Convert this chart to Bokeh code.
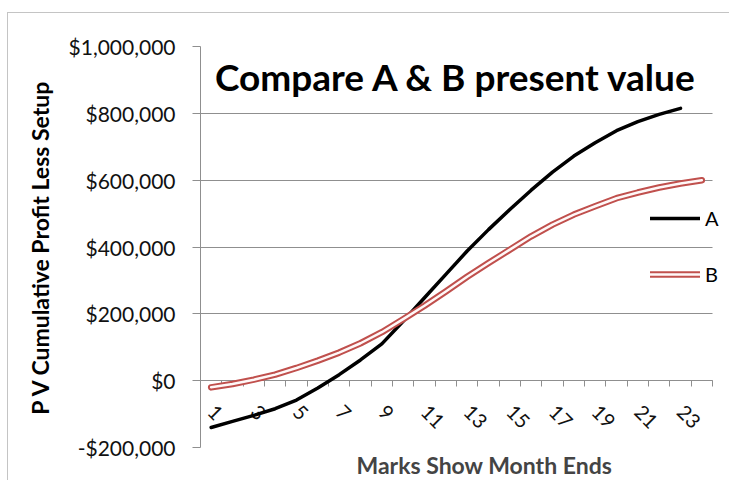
import math
from bokeh.plotting import figure
from bokeh.models import (ColumnDataSource, FixedTicker, LinearAxis, Range1d,
                          Legend, LegendItem, Label, Title, Grid)
from bokeh.embed import file_html
from bokeh.resources import INLINE

# ---- data ----
months_a = [1, 2, 3, 4, 5, 6, 7, 8, 9, 10, 11, 12, 13, 14, 15, 16, 17, 18, 19, 20, 21, 22, 23]
pv_a = [-140000, -122000, -104000, -84000, -58000, -22000, 18000, 62000, 110000,
        178000, 248000, 318000, 388000, 452000, 512000, 570000, 624000, 672000,
        712000, 748000, 775000, 797000, 815000]
months_b = [1, 2, 3, 4, 5, 6, 7, 8, 9, 10, 11, 12, 13, 14, 15, 16, 17, 18, 19, 20, 21, 22, 23, 24]
pv_b = [-20000, -10000, 3000, 18000, 38000, 60000, 84000, 112000, 145000, 184000,
        224000, 267000, 311000, 352000, 392000, 432000, 467000, 497000, 522000,
        546000, 563000, 578000, 590000, 600000]
month_ticks = [1, 3, 5, 7, 9, 11, 13, 15, 17, 19, 21, 23]
month_bounds = [0.5 + i for i in range(25)]
y_ticks = [-200000, 0, 200000, 400000, 600000, 800000, 1000000]
y_labels = ["-$200,000", "$0", "$200,000", "$400,000", "$600,000", "$800,000", "$1,000,000"]

FONT = "Lato"
GRAY = "#8f8f8f"
RED = "#c0504d"

AXIS_PX = 512          # pixel width of the 24 month slots
EXTRA_PX = 18          # room right of the axis for the legend text
x_start, x_end = 0.5, 24.5

p = figure(width=722, height=468,
           x_range=Range1d(x_start, x_end + (x_end - x_start) * EXTRA_PX / AXIS_PX),
           y_range=Range1d(-200000, 1000000), output_backend="svg",
           toolbar_location=None, x_axis_type=None, y_axis_type=None,
           min_border_left=192, min_border_right=0, min_border_top=33,
           min_border_bottom=34)
p.margin = (12, 0, 0, 7)
p.styles = {"border-top": "1px solid #c4c4c4", "border-left": "1px solid #c4c4c4"}
p.outline_line_color = None
p.background_fill_color = "white"
p.border_fill_color = "white"

# horizontal gridlines, limited to the month slots
if "cross_bounds" in Grid.properties():
    p.add_layout(Grid(dimension=1, ticker=FixedTicker(ticks=y_ticks),
                      cross_bounds=(x_start, x_end),
                      grid_line_color=GRAY, grid_line_width=1))
else:
    gaxis = LinearAxis(fixed_location=x_start, ticker=FixedTicker(ticks=y_ticks))
    gaxis.level = "underlay"
    gaxis.axis_line_color = None
    gaxis.major_tick_line_color = GRAY
    gaxis.major_tick_out = 0
    gaxis.major_tick_in = AXIS_PX
    gaxis.minor_tick_line_color = None
    gaxis.major_label_text_alpha = 0
    p.add_layout(gaxis, "left")

# y axis
yaxis = LinearAxis(ticker=FixedTicker(ticks=y_ticks),
                   major_label_overrides={t: l for t, l in zip(y_ticks, y_labels)})
yaxis.axis_line_color = GRAY
yaxis.major_tick_line_color = GRAY
yaxis.major_tick_out = 8
yaxis.major_tick_in = 0
yaxis.minor_tick_line_color = None
yaxis.major_label_text_font = FONT
yaxis.major_label_text_font_size = "21px"
yaxis.major_label_text_color = "#111111"
yaxis.major_label_standoff = 17
yaxis.axis_label = "P V Cumulative Profit Less Setup"
yaxis.axis_label_text_font = FONT
yaxis.axis_label_text_font_size = "23px"
yaxis.axis_label_text_font_style = "bold"
yaxis.axis_label_text_color = "black"
yaxis.axis_label_standoff = 12
p.add_layout(yaxis, "left")

# x axis crossing at zero
xaxis = LinearAxis(fixed_location=0, bounds=(x_start, x_end),
                   ticker=FixedTicker(ticks=month_ticks, minor_ticks=month_bounds))
xaxis.level = "underlay"
xaxis.axis_line_color = GRAY
xaxis.major_tick_out = 0
xaxis.major_tick_in = 0
xaxis.minor_tick_line_color = GRAY
xaxis.minor_tick_out = 6
xaxis.minor_tick_in = 0
xaxis.major_label_orientation = -math.pi / 4
xaxis.major_label_text_font = FONT
xaxis.major_label_text_font_size = "20px"
xaxis.major_label_text_color = "#111111"
xaxis.major_label_standoff = 22
p.add_layout(xaxis, "below")

# x axis title
p.add_layout(Title(text="Marks Show Month  Ends", align="left", offset=156,
                   text_font=FONT, text_font_size="23px", text_font_style="bold",
                   standoff=2), "below")

# series
src_a = ColumnDataSource(dict(x=months_a, y=pv_a))
src_b = ColumnDataSource(dict(x=months_b, y=pv_b))
ra = p.line("x", "y", source=src_a, line_color="black", line_width=3.5,
            line_cap="round", line_join="round")
rb1 = p.line("x", "y", source=src_b, line_color=RED, line_width=6.5,
             line_cap="round", line_join="round")
rb2 = p.line("x", "y", source=src_b, line_color="#fff8f8", line_width=2.5,
             line_cap="round", line_join="round")

legend = Legend(items=[LegendItem(label="A", renderers=[ra]),
                       LegendItem(label="B", renderers=[rb1, rb2])],
                location=(450, 161), orientation="vertical",
                padding=0, margin=0, spacing=32,
                glyph_width=50, glyph_height=20, label_height=20,
                label_standoff=5, border_line_alpha=0,
                background_fill_alpha=0,
                label_text_font=FONT, label_text_font_size="20px",
                label_text_color="black")
p.add_layout(legend, "center")

# chart title inside plot area
p.add_layout(Label(x=(x_start + x_end) / 2, y=910000, text="Compare A & B present value",
                   text_align="center", text_baseline="middle",
                   text_font=FONT, text_font_size="37px", text_font_style="bold",
                   text_color="black"))

open("out.html", "w").write(file_html(p, INLINE))
